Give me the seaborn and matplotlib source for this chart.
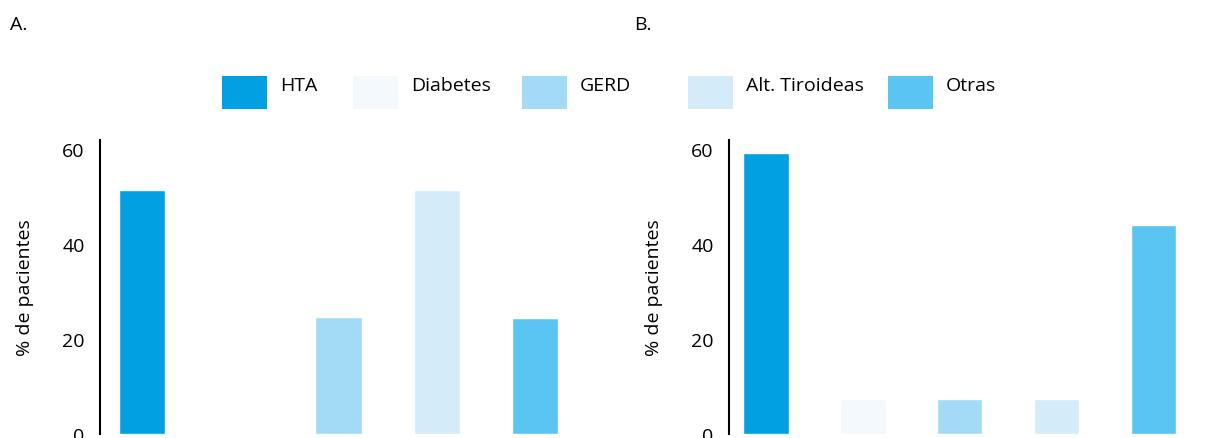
import matplotlib
matplotlib.use("Agg")
import matplotlib.pyplot as plt
import matplotlib.patches as mpatches
import seaborn as sns
import pandas as pd

categorias = ["HTA", "Diabetes", "GERD", "Alt. Tiroideas", "Otras"]
valores_a = [51.5, 0.0, 24.6, 51.5, 24.4]
valores_b = [59.3, 7.4, 7.4, 7.4, 44.0]
colores = ["#00A0E3", "#F4F9FE", "#A3DAF6", "#D4EBFA", "#5BC5F2"]
etiquetas_panel = ["A.", "B."]

sns.set_style("white")
plt.rcParams["font.family"] = ["Open Sans", "DejaVu Sans"]
plt.rcParams["text.color"] = "black"
plt.rcParams["ytick.color"] = "black"
plt.rcParams["axes.labelcolor"] = "black"

W, H = 1211, 439
fig = plt.figure(figsize=(W / 100, H / 100), dpi=100)

def px_box(left, right, bottom_y, top_y):
    # pixel coordinates (y measured from top) -> figure fraction box
    return [left / W, (H - bottom_y) / H, (right - left) / W, (bottom_y - top_y) / H]

# axes boxes
y0_px, ytop_px = 435, 141
ymax = 62
ax_a = fig.add_axes(px_box(100, 584, y0_px, ytop_px))
ax_b = fig.add_axes(px_box(729, 1202, y0_px, ytop_px))

for ax, vals, xmin, lbl, lx in [(ax_a, valores_a, -0.43, etiquetas_panel[0], 10),
                                (ax_b, valores_b, -0.38, etiquetas_panel[1], 634)]:
    df = pd.DataFrame({"cat": categorias, "val": vals})
    sns.barplot(data=df, x="cat", y="val", hue="cat", palette=colores,
                order=categorias, hue_order=categorias, width=0.47,
                legend=False, ax=ax, saturation=1)
    ax.set_xlim(xmin, 4.5)
    ax.set_ylim(0, ymax)
    ax.set_yticks([0, 20, 40, 60])
    ax.set_xticks([])
    ax.set_xlabel("")
    ax.set_ylabel("% de pacientes", fontsize=14, labelpad=20)
    ax.tick_params(axis="y", labelsize=14, length=0, pad=11)
    for s in ["top", "right", "bottom"]:
        ax.spines[s].set_visible(False)
    ax.spines["left"].set_color("black")
    ax.spines["left"].set_linewidth(1.5)
    fig.text(lx / W, 1 - 25 / H, lbl, fontsize=14, va="center", ha="left")

# legend drawn as row of swatches
leg_x = [222, 353, 522, 688, 888]
for x, c, name in zip(leg_x, colores, categorias):
    fig.patches.append(mpatches.Rectangle((x / W, 1 - 110 / H), 45 / W, 33 / H,
                                          transform=fig.transFigure, facecolor=c,
                                          edgecolor="none"))
    fig.text((x + 58) / W, 1 - 86 / H, name, fontsize=14, va="center", ha="left")

fig.savefig("out.png", dpi=100)
